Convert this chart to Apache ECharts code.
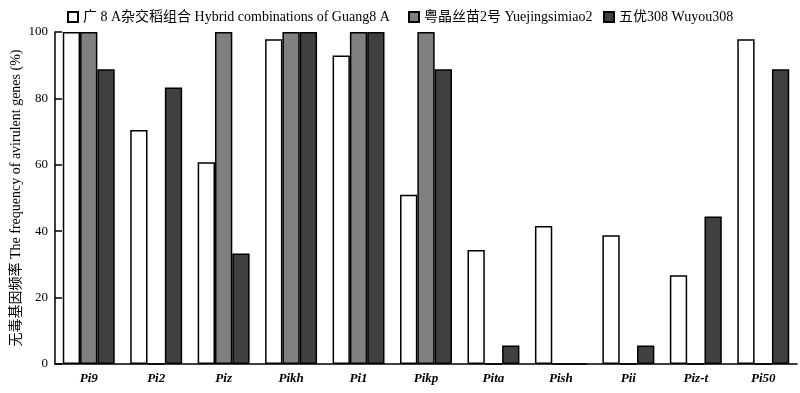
<!DOCTYPE html>
<html>
<head>
<meta charset="utf-8">
<script src="https://cdn.jsdelivr.net/npm/echarts@6/dist/echarts.min.js"></script>
<style>
html,body{margin:0;padding:0;background:#fff;}
#chart{width:800px;height:393px;}
</style>
</head>
<body>
<div id="chart"></div>
<script>
const categories = ['Pi9','Pi2','Piz','Pikh','Pi1','Pikp','Pita','Pish','Pii','Piz-t','Pi50'];
const seriesNames = ['广 8 A杂交稻组合 Hybrid combinations of Guang8 A','粤晶丝苗2号 Yuejingsimiao2','五优308 Wuyou308'];
const guang8A = [100, 70.5, 60.8, 97.8, 92.9, 51.0, 34.3, 41.6, 38.8, 26.7, 97.8];
const yuejing = [100, 0, 100, 100, 100, 100, 0, 0, 0, 0, 0];
const wuyou308 = [88.8, 83.3, 33.3, 100, 100, 88.8, 5.6, 0, 5.6, 44.4, 88.8];
const yTicks = [0, 20, 40, 60, 80, 100];

const FONT = "'Liberation Serif', 'DejaVu Serif', 'Noto Sans CJK SC', serif";
const fills = ['#ffffff', '#808080', '#404040'];
const datas = [guang8A, yuejing, wuyou308];

const chart = echarts.init(document.getElementById('chart'));
const legendLefts = [62, 403, 598];
chart.setOption({
  animation: false,
  backgroundColor: '#fff',
  legend: seriesNames.map((n, i) => ({
    data: [n],
    left: legendLefts[i],
    top: 5,
    padding: 5,
    icon: 'rect',
    itemWidth: 10,
    itemHeight: 10,
    itemGap: 5,
    textStyle: {fontFamily: FONT, fontSize: 14, color: '#000'}
  })),
  grid: {left: 55, right: 3, top: 32, bottom: 29, containLabel: false, outerBoundsMode: 'none'},
  xAxis: {
    type: 'category',
    data: categories,
    axisLine: {lineStyle: {color: '#000', width: 1.5}},
    axisTick: {inside: true, length: 6, lineStyle: {color: '#000', width: 1.5}},
    axisLabel: {fontFamily: FONT, fontStyle: 'italic', fontWeight: 'bold', fontSize: 13, color: '#000', margin: 8}
  },
  yAxis: {
    type: 'value',
    min: 0, max: 100, interval: 20,
    name: '无毒基因频率 The frequency of avirulent genes (%)',
    nameLocation: 'middle',
    nameGap: 32,
    nameRotate: 90,
    nameMoveOverlap: false,
    nameTextStyle: {fontFamily: FONT, fontSize: 14, color: '#000'},
    axisLine: {show: true, lineStyle: {color: '#000', width: 1.5}},
    axisTick: {show: true, inside: true, length: 7, lineStyle: {color: '#000', width: 1.5}},
    axisLabel: {fontFamily: FONT, fontSize: 13, color: '#000', margin: 7,
      formatter: v => yTicks.includes(v) ? String(v) : ''},
    splitLine: {show: false}
  },
  series: seriesNames.map((n, i) => ({
    name: n,
    type: 'bar',
    data: datas[i],
    barGap: '0%',
    barCategoryGap: '23%',
    itemStyle: {color: fills[i], borderColor: '#000', borderWidth: 1.5}
  }))
});
</script>
</body>
</html>
